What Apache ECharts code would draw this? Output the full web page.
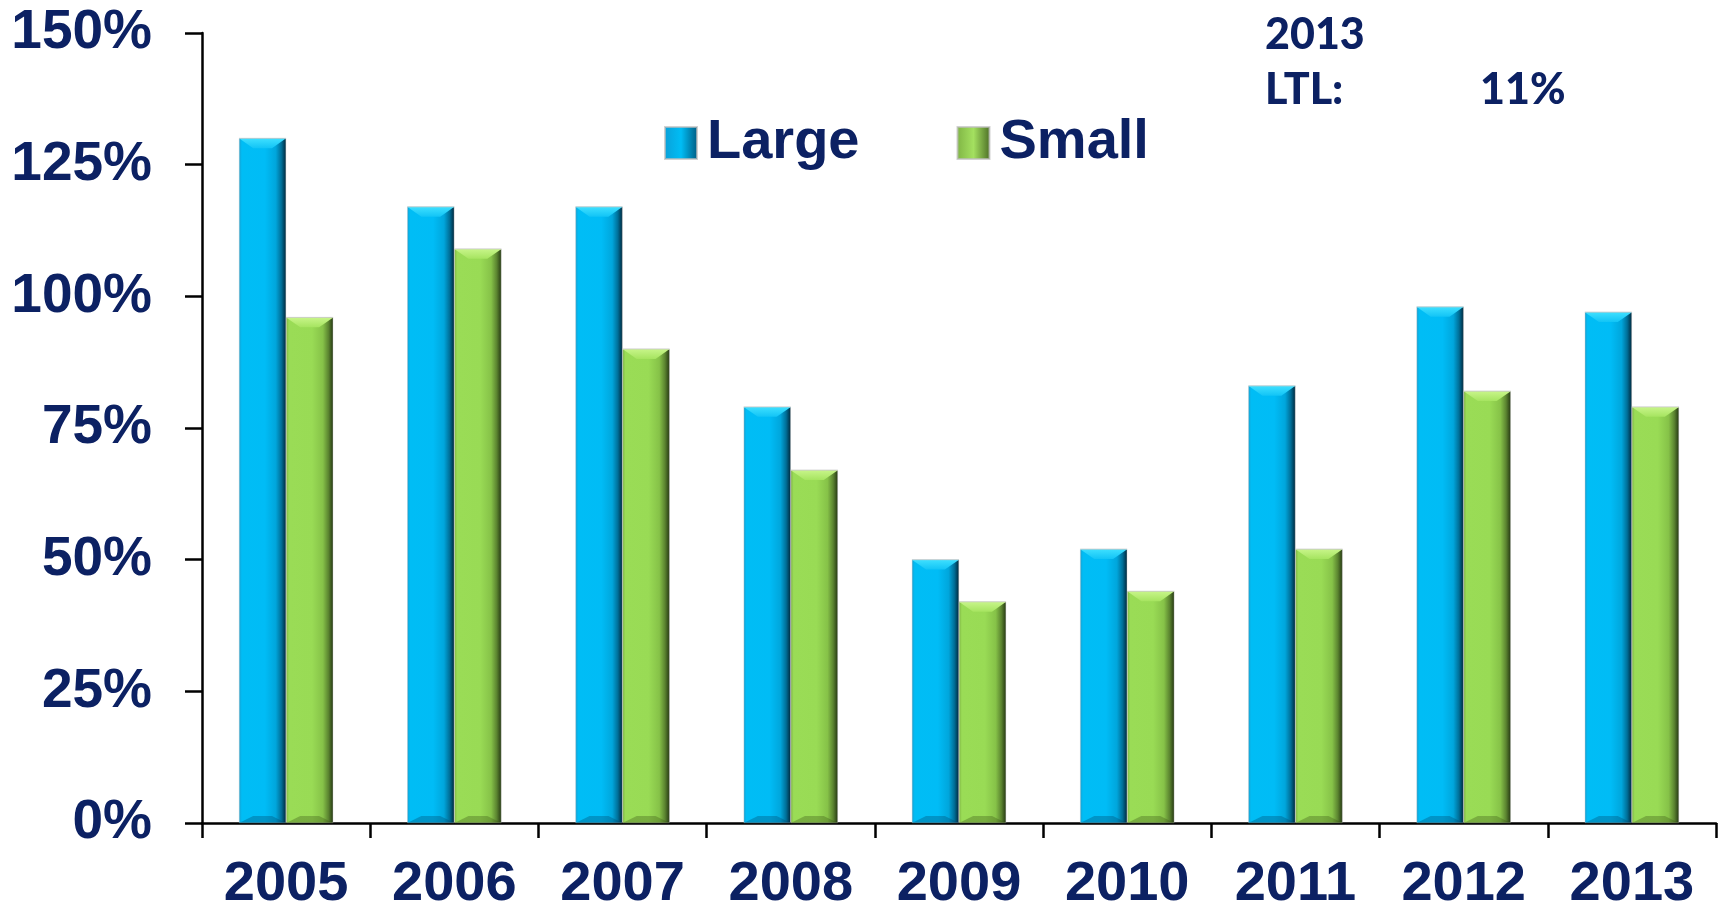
<!DOCTYPE html>
<html>
<head>
<meta charset="utf-8">
<script src="https://cdn.jsdelivr.net/npm/echarts@6/dist/echarts.min.js"></script>
<style>
html,body{margin:0;padding:0;background:#fff;}
#chart{width:1725px;height:915px;}
</style>
</head>
<body>
<div id="chart"></div>
<script>
const categories = ['2005','2006','2007','2008','2009','2010','2011','2012','2013'];
const largeValues = [130, 117, 117, 79, 50, 52, 83, 98, 97];
const smallValues = [96, 109, 90, 67, 42, 44, 52, 82, 79];
const seriesNames = ['Large', 'Small'];
const yTicks = [0, 25, 50, 75, 100, 125, 150];
const noteLines = ['2013', 'LTL:', '11%'];

const NAVY = '#0c2163';
const FONT = '"Liberation Sans", Arial, sans-serif';
const NOTE_FONT = '900 43px Lato, "Open Sans", sans-serif';

function grad(stops) {
  return new echarts.graphic.LinearGradient(0, 0, 1, 0,
    stops.map(s => ({offset: s[0], color: s[1]})));
}
const blueGrad = grad([[0,'#1a9fd0'],[0.06,'#00bdf5'],[0.55,'#00bcf6'],[0.78,'#00a6dc'],[0.9,'#006f98'],[1,'#00263a']]);
const greenGrad = grad([[0,'#7fb444'],[0.06,'#9adc56'],[0.55,'#99db55'],[0.78,'#86c248'],[0.9,'#5b8430'],[1,'#243612']]);

const chart = echarts.init(document.getElementById('chart'));

// bevel top/bottom overlay drawn through the axis scales
function bevelSeries(name, values, idx, light, mid, dark) {
  return {
    type: 'custom',
    name: name + '_bevel',
    silent: true,
    z: 5,
    data: values.map((v, i) => [i, v]),
    renderItem: function (params, api) {
      const ci = api.value(0);
      const v = api.value(1);
      const catW = api.size([1, 0])[0];
      const bw = catW * 0.28;
      const center = api.coord([ci, v]);
      const base = api.coord([ci, 0]);
      const x0 = center[0] - bw + idx * bw;
      const yTop = center[1];
      const yBot = base[1];
      const d = bw * 0.3;
      return {
        type: 'group',
        children: [
          {
            type: 'polygon',
            shape: {points: [[x0, yTop], [x0 + bw, yTop], [x0 + bw - d, yTop + d * 0.7], [x0 + d, yTop + d * 0.7]]},
            style: {fill: new echarts.graphic.LinearGradient(0, 0, 0, 1, [{offset: 0, color: light}, {offset: 1, color: mid}])}
          },
          {
            type: 'polygon',
            shape: {points: [[x0, yBot], [x0 + bw, yBot], [x0 + bw - d, yBot - d * 0.5], [x0 + d, yBot - d * 0.5]]},
            style: {fill: dark, opacity: 0.35}
          },
          {
            type: 'line',
            shape: {x1: x0, y1: yTop, x2: x0 + bw, y2: yTop},
            style: {stroke: 'rgba(200,200,200,0.8)', lineWidth: 1}
          }
        ]
      };
    }
  };
}

const option = {
  animation: false,
  grid: {left: 202, right: 9, top: 33, bottom: 92, containLabel: false},
  legend: {
    data: [
      {name: seriesNames[0], itemStyle: {color: grad([[0,'#0aa0d8'],[0.5,'#00bdf5'],[1,'#005a80']])}},
      {name: seriesNames[1], itemStyle: {color: grad([[0,'#7fb444'],[0.5,'#a4e060'],[1,'#4a6c24']])}}
    ],
    left: 659,
    top: 110,
    icon: 'rect',
    itemWidth: 32,
    itemHeight: 32,
    itemGap: 97,
    textStyle: {color: NAVY, fontSize: 56, fontWeight: 'bold', fontFamily: FONT, padding: [0,0,0,5]}
  },
  xAxis: {
    type: 'category',
    data: categories,
    axisLine: {lineStyle: {color: '#000', width: 2.5}},
    axisTick: {show: true, length: 15, lineStyle: {color: '#000', width: 2.5}},
    axisLabel: {color: NAVY, fontSize: 56, fontWeight: 'bold', fontFamily: FONT, margin: 34},
    splitLine: {show: false}
  },
  yAxis: {
    type: 'value',
    min: yTicks[0],
    max: yTicks[yTicks.length - 1],
    interval: yTicks[1] - yTicks[0],
    axisLine: {show: true, lineStyle: {color: '#000', width: 2.5}},
    axisTick: {show: true, length: 17, lineStyle: {color: '#000', width: 2.5}},
    axisLabel: {color: NAVY, fontSize: 55, fontWeight: 'bold', fontFamily: FONT, margin: 50, formatter: '{value}%'},
    splitLine: {show: false}
  },
  series: [
    {
      name: seriesNames[0], type: 'bar', data: largeValues,
      barWidth: '28%', barGap: '0%',
      itemStyle: {color: blueGrad, borderColor: 'rgba(190,190,190,0.7)', borderWidth: 0.5}
    },
    {
      name: seriesNames[1], type: 'bar', data: smallValues,
      barWidth: '28%', barGap: '0%',
      itemStyle: {color: greenGrad, borderColor: 'rgba(190,190,190,0.7)', borderWidth: 0.5}
    },
    bevelSeries(seriesNames[0], largeValues, 0, '#3fe0ff', '#12c4f6', '#004a70'),
    bevelSeries(seriesNames[1], smallValues, 1, '#c8f58a', '#a6e460', '#3d5a18')
  ],
  graphic: [
    {type: 'text', left: 1265, top: 14, style: {text: noteLines[0], fill: NAVY, font: NOTE_FONT}},
    {type: 'text', left: 1265, top: 69, style: {text: noteLines[1], fill: NAVY, font: NOTE_FONT}},
    {type: 'text', left: 1480, top: 69, style: {text: noteLines[2], fill: NAVY, font: NOTE_FONT}}
  ]
};
chart.setOption(option);
</script>
</body>
</html>
